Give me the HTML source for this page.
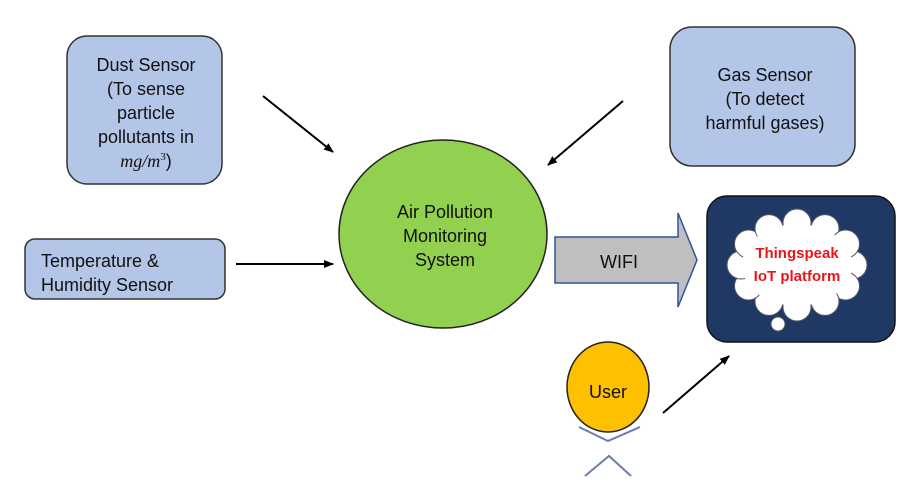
<!DOCTYPE html>
<html><head><meta charset="utf-8"><style>
html,body{margin:0;padding:0;background:#fff;width:904px;height:502px;overflow:hidden}
text{font-family:"Liberation Sans",Arial,sans-serif;fill:#111}
</style></head><body>
<svg width="904" height="502" viewBox="0 0 904 502" xmlns="http://www.w3.org/2000/svg">
<defs>
<marker id="ah" markerWidth="10" markerHeight="8" refX="9" refY="4" orient="auto" markerUnits="userSpaceOnUse">
<path d="M0,0 L10,4 L0,8 z" fill="#000"/></marker>
</defs>
<rect x="67" y="36" width="155" height="148" rx="20" fill="#b4c6e7" stroke="#333" stroke-width="1.5"/>
<g font-size="18" text-anchor="middle">
<text x="146" y="71">Dust Sensor</text>
<text x="146" y="95">(To sense</text>
<text x="146" y="119">particle</text>
<text x="146" y="143">pollutants in</text>
<text x="146" y="167"><tspan font-family="Liberation Serif,serif" font-style="italic">mg/m</tspan><tspan font-family="Liberation Serif,serif" font-size="11" dy="-7">3</tspan><tspan dy="7">)</tspan></text>
</g>
<rect x="25" y="239" width="200" height="60" rx="10" fill="#b4c6e7" stroke="#333" stroke-width="1.5"/>
<text x="41" y="267" font-size="18">Temperature &amp;</text>
<text x="41" y="291" font-size="18">Humidity Sensor</text>
<rect x="670" y="27" width="185" height="139" rx="22" fill="#b4c6e7" stroke="#333" stroke-width="1.5"/>
<g font-size="18" text-anchor="middle">
<text x="765" y="81">Gas Sensor</text>
<text x="765" y="105">(To detect</text>
<text x="765" y="129">harmful gases)</text>
</g>
<g stroke="#000" stroke-width="2" marker-end="url(#ah)">
<line x1="263" y1="96" x2="333" y2="152"/>
<line x1="236" y1="264" x2="333" y2="264"/>
<line x1="623" y1="101" x2="548" y2="165"/>
<line x1="663" y1="413" x2="729" y2="356"/>
</g>
<ellipse cx="443" cy="234" rx="104" ry="94" fill="#92d050" stroke="#222" stroke-width="1.5"/>
<g font-size="18" text-anchor="middle">
<text x="445" y="218">Air Pollution</text>
<text x="445" y="242">Monitoring</text>
<text x="445" y="266">System</text>
</g>
<path d="M555,237 L678,237 L678,213 L697,260 L678,307 L678,283 L555,283 z" fill="#bfbfbf" stroke="#2f5597" stroke-width="1.5"/>
<text x="600" y="268" font-size="18">WIFI</text>
<rect x="707" y="196" width="188" height="146" rx="20" fill="#203864" stroke="#111" stroke-width="1.5"/>
<g fill="#fff" stroke="#556" stroke-width="1">
<circle cx="853" cy="265" r="14"/>
<circle cx="845.5" cy="286" r="14"/>
<circle cx="825" cy="301.4" r="14"/>
<circle cx="797" cy="307" r="14"/>
<circle cx="769" cy="301.4" r="14"/>
<circle cx="748.5" cy="286" r="14"/>
<circle cx="741" cy="265" r="14"/>
<circle cx="748.5" cy="244" r="14"/>
<circle cx="769" cy="228.6" r="14"/>
<circle cx="797" cy="223" r="14"/>
<circle cx="825" cy="228.6" r="14"/>
<circle cx="845.5" cy="244" r="14"/>
</g>
<ellipse cx="797" cy="265" rx="55" ry="41" fill="#fff"/>
<circle cx="778" cy="324" r="7" fill="#fff" stroke="#556"/>
<g font-size="15" font-weight="bold" text-anchor="middle">
<text x="797" y="258" style="fill:#e8161b">Thingspeak</text>
<text x="797" y="281" style="fill:#e8161b">IoT platform</text>
</g>
<ellipse cx="608" cy="387" rx="41" ry="45" fill="#ffc000" stroke="#222" stroke-width="1.5"/>
<text x="608" y="398" font-size="18" text-anchor="middle">User</text>
<g stroke="#6c7fa8" stroke-width="2" fill="none">
<polyline points="579,427 608,441 640,427"/>
<polyline points="585,476 609,456 631,476"/>
</g>
</svg>
</body></html>
